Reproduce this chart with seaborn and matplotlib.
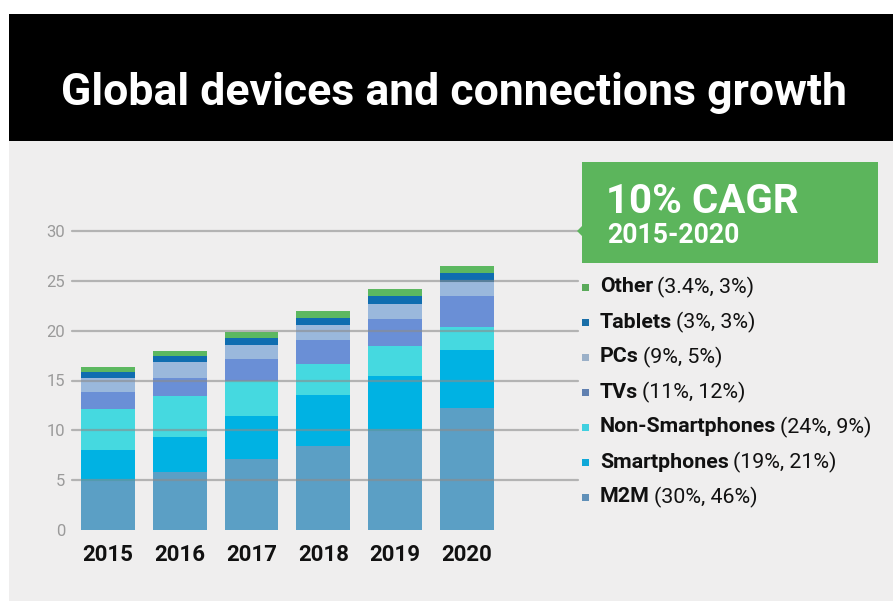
import matplotlib
matplotlib.use("Agg")
import matplotlib.pyplot as plt
import matplotlib.patches as mpatches
import numpy as np
import pandas as pd
import seaborn as sns

# ---- data (billions of devices/connections) ----
years = ["2015", "2016", "2017", "2018", "2019", "2020"]
m2m = [4.9, 5.8, 7.1, 8.4, 9.9, 12.2]
smartphones = [3.1, 3.5, 4.3, 5.1, 5.6, 5.9]
non_smartphones = [4.1, 4.1, 3.5, 3.2, 3.0, 2.3]
tvs = [1.7, 1.9, 2.3, 2.4, 2.7, 3.1]
pcs = [1.5, 1.6, 1.4, 1.5, 1.5, 1.4]
tablets = [0.6, 0.6, 0.7, 0.7, 0.8, 0.9]
other = [0.5, 0.5, 0.6, 0.7, 0.7, 0.7]

series_names = ["M2M", "Smartphones", "Non-Smartphones", "TVs", "PCs", "Tablets", "Other"]
series_values = [m2m, smartphones, non_smartphones, tvs, pcs, tablets, other]
series_shares = ["(30%, 46%)", "(19%, 21%)", "(24%, 9%)", "(11%, 12%)",
                 "(9%, 5%)", "(3%, 3%)", "(3.4%, 3%)"]
bar_colors = ["#5b9fc5", "#00b2e3", "#45d9e0", "#6a8fd6", "#9ab8dc", "#0f6db0", "#5cb860"]
marker_colors = ["#6090b8", "#10a8d8", "#40d0e0", "#6080b0", "#9bb0c8", "#1a6fa8", "#5aaa5a"]
y_ticks = [0, 5, 10, 15, 20, 25, 30]

title = "Global devices and connections growth"
badge_main = "10% CAGR"
badge_sub = "2015-2020"

# ---- figure setup ----
W, H = 893, 601
sns.set_theme(style="white")
plt.rcParams["font.family"] = ["Roboto", "DejaVu Sans"]

fig = plt.figure(figsize=(W / 100, H / 100), dpi=100)
fig.patch.set_facecolor("white")
renderer = fig.canvas.get_renderer()


def fx(px):
    return px / W


def fy(py):
    return 1 - py / H


def fit_size(text, width_px, weight="bold"):
    """Font size (pt) at which `text` spans `width_px` pixels."""
    probe = fig.text(0, 0, text, fontsize=20, fontweight=weight)
    w = probe.get_window_extent(renderer=renderer).width
    probe.remove()
    return 20 * width_px / w


# light grey panel and black header band
fig.add_artist(mpatches.Rectangle((fx(9), 0), 1 - fx(9), fy(141), transform=fig.transFigure,
                                  facecolor="#efeeee", edgecolor="none", zorder=0))
fig.add_artist(mpatches.Rectangle((fx(9), fy(141)), 1 - fx(9), fy(14) - fy(141),
                                  transform=fig.transFigure, facecolor="black",
                                  edgecolor="none", zorder=0))
fig.text(fx(454), fy(105), title, color="white", fontsize=fit_size(title, 785),
         fontweight="bold", ha="center", va="baseline")

# ---- stacked bars ----
ax_left, ax_right, ax_top, ax_bottom = 72, 578, 231, 530
ax = fig.add_axes([fx(ax_left), fy(ax_bottom), fx(ax_right - ax_left),
                   (ax_bottom - ax_top) / H])
ax.set_facecolor("none")

cumulative = np.cumsum(np.array(series_values), axis=0)
df = pd.DataFrame({"year": years})
for name, cum in zip(series_names, cumulative):
    df[name] = cum

# draw tallest cumulative layer first so each lower layer sits on top of it
for name, color in reversed(list(zip(series_names, bar_colors))):
    sns.barplot(data=df, x="year", y=name, color=color, saturation=1,
                width=0.75, linewidth=0, ax=ax, zorder=2)

# gridlines drawn across the bars
for t in y_ticks[1:]:
    ax.axhline(t, color="#8c8c8c", lw=1.6, alpha=0.6, zorder=3, clip_on=False)

ax.set_xlim(-0.50, 6.546)
ax.set_ylim(0, 30)
ax.set_yticks(y_ticks)
ax.set_yticklabels([str(t) for t in y_ticks], color="#9a9a9a", fontsize=12)
ax.tick_params(axis="y", length=0, pad=5)
ax.tick_params(axis="x", length=0, pad=10)
year_size = fit_size("2015", 51)
for lbl in ax.get_xticklabels():
    lbl.set_fontsize(year_size)
    lbl.set_fontweight("bold")
    lbl.set_color("#111111")
ax.set_xlabel("")
ax.set_ylabel("")
for s in ax.spines.values():
    s.set_visible(False)
ax.grid(False)

# ---- CAGR badge ----
bx0, bx1, by0, by1 = 582, 878, 162, 263
badge = mpatches.Polygon(
    [(fx(bx0), fy(by0)), (fx(bx1), fy(by0)), (fx(bx1), fy(by1)), (fx(bx0), fy(by1)),
     (fx(bx0), fy(236)), (fx(577), fy(231)), (fx(bx0), fy(226))],
    closed=True, transform=fig.transFigure, facecolor="#5cb55c", edgecolor="none", zorder=4)
fig.add_artist(badge)
fig.text(fx(606), fy(213), badge_main, color="white", fontsize=fit_size(badge_main, 192),
         fontweight="bold", ha="left", va="baseline", zorder=5)
fig.text(fx(607), fy(243), badge_sub, color="white", fontsize=fit_size(badge_sub, 132),
         fontweight="bold", ha="left", va="baseline", zorder=5)

# ---- legend ----
legend_size = fit_size("Non-Smartphones (24%, 9%)", 275)
row_y = [497, 462, 427, 392, 357, 322, 287]
for name, share, color, yy in zip(series_names, series_shares, marker_colors, row_y):
    fig.add_artist(mpatches.Rectangle((fx(582), fy(yy + 3.5)), fx(7), 7 / H,
                                      transform=fig.transFigure, facecolor=color,
                                      edgecolor="none"))
    t1 = fig.text(fx(600), fy(yy), name, color="#111111", fontsize=legend_size,
                  fontweight="bold", ha="left", va="center")
    bb = t1.get_window_extent(renderer=renderer)
    fig.text(bb.x1 / W + fx(4), fy(yy), share, color="#111111", fontsize=legend_size,
             ha="left", va="center")

fig.savefig("out.png", dpi=100, facecolor=fig.get_facecolor())
